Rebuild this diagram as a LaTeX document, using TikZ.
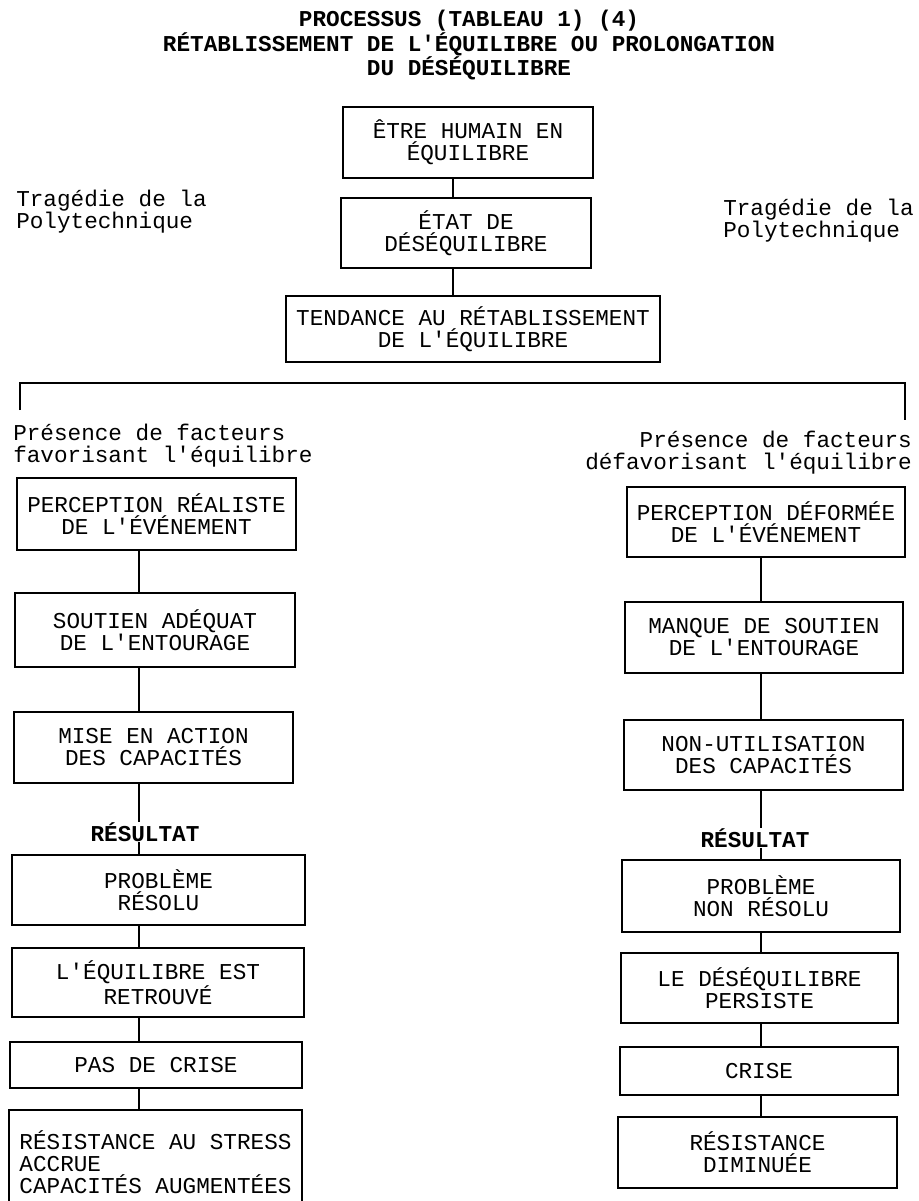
\documentclass[tikz,border=0pt]{standalone}
\usepackage{fontspec}
\setmonofont{Liberation Mono}

\begin{document}
\begin{tikzpicture}[x=0.75pt, y=-0.75pt,
  font=\ttfamily\fontsize{17}{16.5}\selectfont,
  trait/.style={line width=1.1pt},
  cadre/.style 2 args={draw, line width=1.1pt, minimum width=#1*0.75pt,
    minimum height=#2*0.75pt, align=center, inner sep=1pt},
  texte/.style={inner sep=0pt},
  gras/.style={texte, font=\ttfamily\bfseries\fontsize{17}{17}\selectfont}]
  \useasboundingbox (0,0) rectangle (919,1201);
  \node[gras, align=center] (titre) at (469,45)
    {PROCESSUS (TABLEAU 1) (4)\\RÉTABLISSEMENT DE L'ÉQUILIBRE OU PROLONGATION\\DU DÉSÉQUILIBRE};
  \node[cadre={250}{71}] (humain) at (468,142.5) {ÊTRE HUMAIN EN\\ÉQUILIBRE};
  \node[cadre={250}{70}] (desequ) at (466,233) {ÉTAT DE\\DÉSÉQUILIBRE};
  \node[cadre={374}{66}] (tendance) at (473,329) {TENDANCE AU RÉTABLISSEMENT\\DE L'ÉQUILIBRE};
  \node[texte, anchor=west, align=left] (tragG) at (16,212) {Tragédie de la\\Polytechnique};
  \node[texte, anchor=west, align=left] (tragD) at (723,221) {Tragédie de la\\Polytechnique};
  \node[texte, anchor=west, align=left] (favG) at (13,446) {Présence de facteurs\\favorisant l'équilibre};
  \node[texte, anchor=east, align=right] (defavD) at (912,453) {Présence de facteurs\\défavorisant l'équilibre};

  \node[cadre={279}{72}] (percR) at (156.5,514) {PERCEPTION RÉALISTE\\DE L'ÉVÉNEMENT};
  \node[cadre={280}{74}] (soutien) at (155,630) {SOUTIEN ADÉQUAT\\DE L'ENTOURAGE};
  \node[cadre={279}{71}] (action) at (153.5,747.5) {MISE EN ACTION\\DES CAPACITÉS};
  \node[gras] (resG) at (145,832) {RÉSULTAT};
  \node[cadre={293}{70}] (resolu) at (158.5,890) {PROBLÈME\\RÉSOLU};
  \node[cadre={292}{69}] (retrouve) at (158,982.5) {L'ÉQUILIBRE EST\\RETROUVÉ};
  \node[cadre={292}{46}] (pascrise) at (156,1065) {PAS DE CRISE};
  \node[cadre={293}{105}, align=left] (accrue) at (155.5,1162.5)
    {RÉSISTANCE AU STRESS\\ACCRUE\\CAPACITÉS AUGMENTÉES};

  \node[cadre={278}{70}] (percD) at (766,522) {PERCEPTION DÉFORMÉE\\DE L'ÉVÉNEMENT};
  \node[cadre={278}{71}] (manque) at (764,637.5) {MANQUE DE SOUTIEN\\DE L'ENTOURAGE};
  \node[cadre={279}{70}] (nonutil) at (763.5,755) {NON-UTILISATION\\DES CAPACITÉS};
  \node[gras] (resD) at (755,838) {RÉSULTAT};
  \node[cadre={278}{72}] (nonresolu) at (761,896) {PROBLÈME\\NON RÉSOLU};
  \node[cadre={277}{70}] (persiste) at (759.5,988) {LE DÉSÉQUILIBRE\\PERSISTE};
  \node[cadre={278}{48}] (crise) at (759,1071) {CRISE};
  \node[cadre={279}{71}] (diminuee) at (757.5,1152.5) {RÉSISTANCE\\DIMINUÉE};

  \coordinate (axeH) at (453,0);
  \coordinate (axeG) at (139,0);
  \coordinate (axeD) at (761,0);
  \coordinate (crochetH) at (0,383);
  \coordinate (crochetG) at (20,410);
  \coordinate (crochetD) at (905,420);
  \draw[trait] (humain.south -| axeH) -- (desequ.north -| axeH);
  \draw[trait] (desequ.south -| axeH) -- (tendance.north -| axeH);
  \draw[trait] (crochetG) -- (crochetG |- crochetH) -- (crochetD |- crochetH) -- (crochetD);
  \foreach \a/\b in {percR/soutien, soutien/action, action/resG, resG/resolu,
    resolu/retrouve, retrouve/pascrise, pascrise/accrue}
    \draw[trait] (\a.south -| axeG) -- (\b.north -| axeG);
  \foreach \a/\b in {percD/manque, manque/nonutil, nonutil/resD, resD/nonresolu,
    nonresolu/persiste, persiste/crise, crise/diminuee}
    \draw[trait] (\a.south -| axeD) -- (\b.north -| axeD);
\end{tikzpicture}
\end{document}
